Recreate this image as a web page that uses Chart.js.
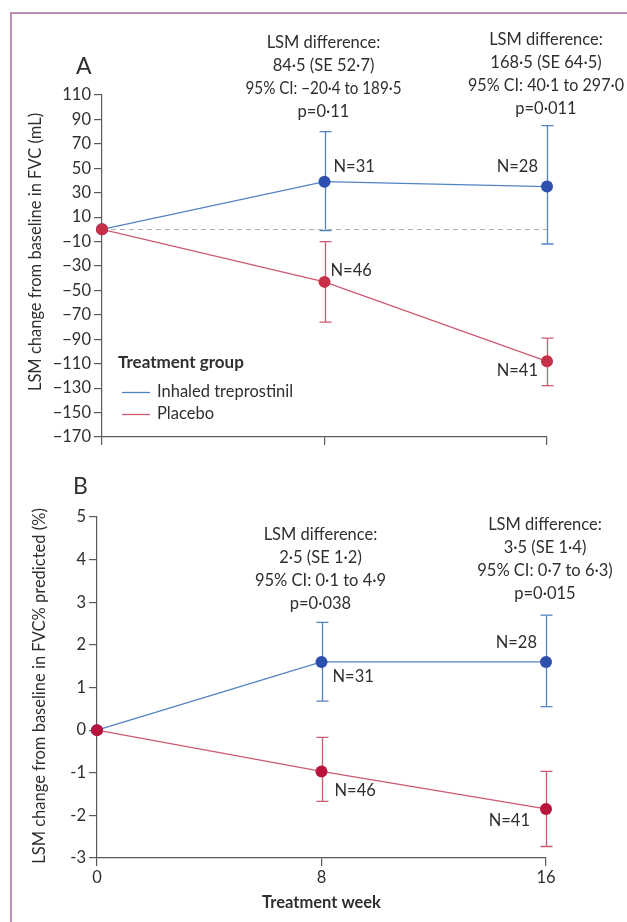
<!DOCTYPE html>
<html>
<head>
<meta charset="utf-8">
<script src="https://cdn.jsdelivr.net/npm/chart.js@4/dist/chart.umd.min.js"></script>
<style>
  html, body { margin: 0; padding: 0; background: #fff; }
  #wrap { position: relative; width: 627px; height: 922px; overflow: hidden; }
  #frame { position: absolute; left: 10px; top: 12px; width: 700px; height: 1000px;
           border-left: 2px solid #b98db4; border-top: 2px solid #b98db4; }
  canvas { position: absolute; left: 0; }
  #ca { top: 0; }
  #cb { top: 460px; }
</style>
</head>
<body>
<div id="wrap">
  <div id="frame"></div>
  <canvas id="ca" width="627" height="460"></canvas>
  <canvas id="cb" width="627" height="462"></canvas>
</div>
<script>
// ---------------- DATA ----------------
const weeks = [0, 8, 16];
const xTicks = [0, 8, 16];

// Panel A: LSM change from baseline in FVC (mL)
const fvcTreprostinil   = [0, 39, 35];
const fvcTreprostinilLo = [null, -1, -12];
const fvcTreprostinilHi = [null, 80, 85];
const fvcPlacebo   = [0, -43, -108];
const fvcPlaceboLo = [null, -76, -128];
const fvcPlaceboHi = [null, -10, -89];
const yTicksA = [110, 90, 70, 50, 30, 10, -10, -30, -50, -70, -90, -110, -130, -150, -170];

// Panel B: LSM change from baseline in FVC% predicted (%)
const pctTreprostinil   = [0, 1.6, 1.6];
const pctTreprostinilLo = [null, 0.68, 0.55];
const pctTreprostinilHi = [null, 2.53, 2.7];
const pctPlacebo   = [0, -0.97, -1.85];
const pctPlaceboLo = [null, -1.67, -2.73];
const pctPlaceboHi = [null, -0.17, -0.97];
const yTicksB = [5, 4, 3, 2, 1, 0, -1, -2, -3];

const nTreprostinil = [null, 'N=31', 'N=28'];
const nPlacebo      = [null, 'N=46', 'N=41'];

const seriesNames = ['Inhaled treprostinil', 'Placebo'];
const legendTitle = 'Treatment group';

const annA8  = ['LSM difference:', '84·5 (SE 52·7)', '95% CI: −20·4 to 189·5', 'p=0·11'];
const annA16 = ['LSM difference:', '168·5 (SE 64·5)', '95% CI: 40·1 to 297·0', 'p=0·011'];
const annB8  = ['LSM difference:', '2·5 (SE 1·2)', '95% CI: 0·1 to 4·9', 'p=0·038'];
const annB16 = ['LSM difference:', '3·5 (SE 1·4)', '95% CI: 0·7 to 6·3)', 'p=0·015'];

const yTitleA = 'LSM change from baseline in FVC (mL)';
const yTitleB = 'LSM change from baseline in FVC% predicted (%)';
const xTitleB = 'Treatment week';

// ---------------- STYLE ----------------
const FONT = 'Lato, "Open Sans", sans-serif';
const FS = 16.5;
const TXT = '#2f2f2f';
const AX = '#5a5a5a';
const BLUE_LINE = '#5283c2';
const BLUE_PT = '#2d4fae';
const RED_LINE = '#cc5a72';
const RED_PT_A = '#c62f45';
const RED_PT_B = '#b8143c';

function pts(vals) { return weeks.map((w, i) => ({ x: w, y: vals[i] })); }

const overlay = {
  id: 'overlay',
  beforeDatasetsDraw(chart, args, o) {
    const ctx = chart.ctx, xs = chart.scales.x, ys = chart.scales.y, ca = chart.chartArea;
    ctx.save();
    if (o.zeroLine) {
      ctx.strokeStyle = '#b0b0b0'; ctx.lineWidth = 1; ctx.setLineDash([5, 4]);
      const y0 = Math.round(ys.getPixelForValue(0)) + 0.5;
      ctx.beginPath(); ctx.moveTo(ca.left, y0); ctx.lineTo(ca.right, y0); ctx.stroke();
      ctx.setLineDash([]);
    }
    chart.data.datasets.forEach(ds => {
      ctx.strokeStyle = ds.borderColor; ctx.lineWidth = 1.3;
      ds.data.forEach((p, i) => {
        if (ds.lo[i] == null) return;
        const x = Math.round(xs.getPixelForValue(p.x)) + 0.5;
        const yl = ys.getPixelForValue(ds.lo[i]);
        const yh = ys.getPixelForValue(ds.hi[i]);
        ctx.beginPath();
        ctx.moveTo(x, yl); ctx.lineTo(x, yh);
        ctx.moveTo(x - 6, yl); ctx.lineTo(x + 6, yl);
        ctx.moveTo(x - 6, yh); ctx.lineTo(x + 6, yh);
        ctx.stroke();
      });
    });
    ctx.restore();
  },
  afterDraw(chart, args, o) {
    const ctx = chart.ctx, xs = chart.scales.x, ys = chart.scales.y;
    ctx.save();
    ctx.fillStyle = TXT;
    // panel letter
    ctx.font = '23px ' + FONT; ctx.textAlign = 'left'; ctx.textBaseline = 'middle';
    ctx.fillText(o.letter[0], o.letter[1], o.letter[2]);
    // y title
    ctx.save();
    ctx.font = FS + 'px ' + FONT; ctx.textAlign = 'center'; ctx.textBaseline = 'middle';
    ctx.translate(o.yTitle[1], o.yTitle[2]); ctx.rotate(-Math.PI / 2);
    ctx.fillText(o.yTitle[0], 0, 0);
    ctx.restore();
    // annotations
    ctx.font = FS + 'px ' + FONT; ctx.textAlign = 'center'; ctx.textBaseline = 'middle';
    o.notes.forEach(n => {
      const x = xs.getPixelForValue(n.week) - 1;
      n.lines.forEach((t, k) => ctx.fillText(t, x, n.top + k * 23, 156));
    });
    // N labels
    chart.data.datasets.forEach((ds, di) => {
      ds.data.forEach((p, i) => {
        const lab = ds.nLabels[i];
        if (!lab) return;
        const off = o.nOffsets[di][i];
        ctx.textAlign = off[0] > 0 ? 'left' : 'right';
        ctx.fillText(lab, xs.getPixelForValue(p.x) + off[0], ys.getPixelForValue(p.y) + off[1]);
      });
    });
    // legend
    if (o.legend) {
      const L = o.legend;
      ctx.textAlign = 'left';
      ctx.font = 'bold 17px ' + FONT;
      ctx.fillText(legendTitle, L.x, L.y);
      ctx.font = FS + 'px ' + FONT;
      chart.data.datasets.forEach((ds, di) => {
        const yy = L.y + 29 + di * 22;
        ctx.strokeStyle = ds.borderColor; ctx.lineWidth = 1.3;
        ctx.beginPath(); ctx.moveTo(L.x + 4, Math.round(yy) + 0.5); ctx.lineTo(L.x + 32, Math.round(yy) + 0.5); ctx.stroke();
        ctx.fillText(ds.label, L.x + 39, yy);
      });
    }
    ctx.restore();
  }
};

function makeChart(id, cfg) {
  return new Chart(document.getElementById(id), {
    type: 'line',
    data: {
      datasets: [
        { label: seriesNames[0], data: pts(cfg.tre), lo: cfg.treLo, hi: cfg.treHi, nLabels: nTreprostinil,
          borderColor: BLUE_LINE, backgroundColor: BLUE_PT, pointBackgroundColor: BLUE_PT,
          pointBorderWidth: 0, pointRadius: 6, borderWidth: 1.3, order: 1, tension: 0, clip: false },
        { label: seriesNames[1], data: pts(cfg.pla), lo: cfg.plaLo, hi: cfg.plaHi, nLabels: nPlacebo,
          borderColor: RED_LINE, backgroundColor: cfg.redPt, pointBackgroundColor: cfg.redPt,
          pointBorderWidth: 0, pointRadius: 6, borderWidth: 1.3, order: 0, tension: 0, clip: false }
      ]
    },
    options: {
      responsive: false, animation: false, devicePixelRatio: window.devicePixelRatio || 1,
      layout: { padding: cfg.padding },
      plugins: { legend: { display: false }, tooltip: { enabled: false }, overlay: cfg.overlay },
      scales: {
        x: {
          type: 'linear', min: 0, max: 16,
          afterBuildTicks: s => { s.ticks = xTicks.map(v => ({ value: v })); },
          afterFit: s => { s.height = cfg.xHeight; },
          ticks: { display: cfg.xLabels, font: { family: FONT, size: FS }, color: TXT, padding: 2, maxRotation: 0 },
          grid: { drawOnChartArea: false, drawTicks: true, tickLength: 8, color: AX, lineWidth: 1.2 },
          border: { color: AX, width: 1.2 },
          title: cfg.xTitle
        },
        y: {
          type: 'linear', min: cfg.yMin, max: cfg.yMax,
          afterBuildTicks: s => { s.ticks = cfg.yTicks.map(v => ({ value: v })); },
          afterFit: s => { s.width = cfg.yWidth; },
          ticks: { font: { family: FONT, size: FS }, color: TXT, padding: 3, callback: cfg.fmt },
          grid: { drawOnChartArea: false, drawTicks: true, tickLength: 8, color: AX, lineWidth: 1.2 },
          border: { color: AX, width: 1.2 }
        }
      }
    },
    plugins: [overlay]
  });
}

makeChart('ca', {
  tre: fvcTreprostinil, treLo: fvcTreprostinilLo, treHi: fvcTreprostinilHi,
  pla: fvcPlacebo, plaLo: fvcPlaceboLo, plaHi: fvcPlaceboHi, redPt: RED_PT_A,
  yMin: -170, yMax: 110, yTicks: yTicksA, yWidth: 102, xHeight: 23, xLabels: false,
  padding: { left: 0, top: 95, right: 80, bottom: 0 },
  fmt: v => (v < 0 ? '−' + Math.abs(v) : String(v)),
  xTitle: { display: false },
  overlay: {
    zeroLine: true,
    letter: ['A', 76, 67],
    yTitle: [yTitleA, 36, 252],
    notes: [{ week: 8, top: 43, lines: annA8 }, { week: 16, top: 40, lines: annA16 }],
    nOffsets: [[null, [9, -15], [-9, -20]], [null, [6, -11], [-9, 9]]],
    legend: { x: 118, y: 363 }
  }
});

makeChart('cb', {
  tre: pctTreprostinil, treLo: pctTreprostinilLo, treHi: pctTreprostinilHi,
  pla: pctPlacebo, plaLo: pctPlaceboLo, plaHi: pctPlaceboHi, redPt: RED_PT_B,
  yMin: -3, yMax: 5, yTicks: yTicksB, yWidth: 97, xHeight: 64, xLabels: true,
  padding: { left: 0, top: 57, right: 81, bottom: 0 },
  fmt: v => String(v),
  xTitle: { display: true, text: xTitleB, color: TXT, font: { family: FONT, size: FS, weight: 'bold' }, padding: { top: 0, bottom: 9 } },
  overlay: {
    zeroLine: false,
    letter: ['B', 73, 27],
    yTitle: [yTitleB, 40, 226],
    notes: [{ week: 8, top: 75, lines: annB8 }, { week: 16, top: 65, lines: annB16 }],
    nOffsets: [[null, [11, 15], [-9, -19]], [null, [13, 19], [-16, 12]]],
    legend: null
  }
});
</script>
</body>
</html>
